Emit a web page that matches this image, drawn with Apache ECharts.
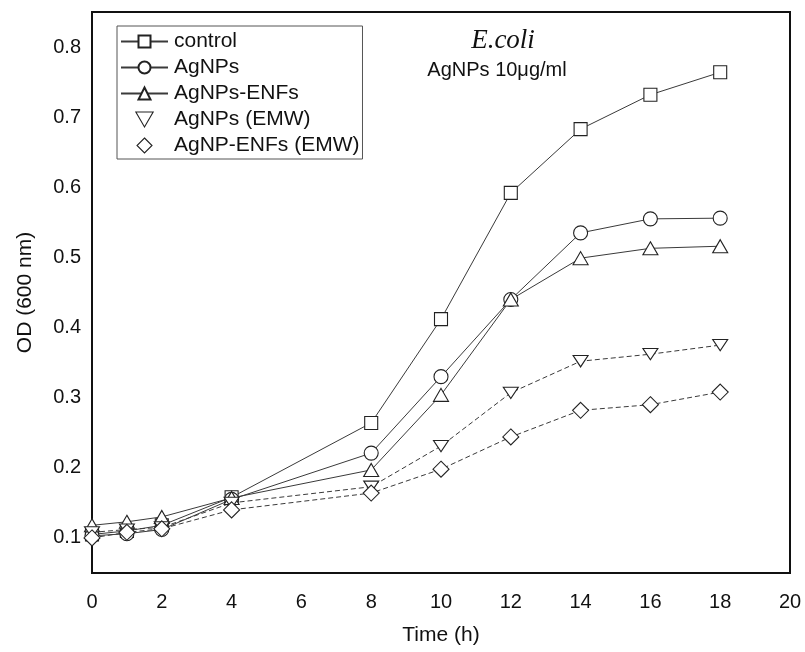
<!DOCTYPE html>
<html>
<head>
<meta charset="utf-8">
<script src="https://cdn.jsdelivr.net/npm/echarts@6/dist/echarts.min.js"></script>
<style>html,body{margin:0;padding:0;background:#fff}#c{width:805px;height:652px}</style>
</head>
<body>
<div id="c"></div>
<script>
const timeH = [0, 1, 2, 4, 8, 10, 12, 14, 16, 18];
const control = [0.105, 0.110, 0.118, 0.158, 0.264, 0.412, 0.592, 0.683, 0.732, 0.764];
const agnps = [0.103, 0.106, 0.112, 0.155, 0.221, 0.330, 0.440, 0.535, 0.555, 0.556];
const agnpsEnfs = [0.118, 0.123, 0.130, 0.157, 0.197, 0.304, 0.440, 0.499, 0.513, 0.516];
const agnpsEmw = [0.108, 0.112, 0.115, 0.150, 0.173, 0.231, 0.307, 0.352, 0.362, 0.375];
const agnpEnfsEmw = [0.100, 0.108, 0.113, 0.140, 0.164, 0.198, 0.244, 0.282, 0.290, 0.308];
const xTicks = [0, 2, 4, 6, 8, 10, 12, 14, 16, 18, 20];
const yTicks = [0.1, 0.2, 0.3, 0.4, 0.5, 0.6, 0.7, 0.8];
const seriesNames = ['control', 'AgNPs', 'AgNPs-ENFs', 'AgNPs (EMW)', 'AgNP-ENFs (EMW)'];

const FONT = '"Liberation Sans", Arial, sans-serif';
const DOWN_TRI = 'path://M0,0L10,0L5,8.66Z';
const DIAMOND = 'path://M5,0L10,5L5,10L0,5Z';

function pairs(vals) { return timeH.map((t, i) => [t, vals[i]]); }

const mk = (name, vals, symbol, size, dashed) => ({
  name: name,
  type: 'line',
  data: pairs(vals),
  symbol: symbol,
  symbolSize: size,
  symbolKeepAspect: true,
  showAllSymbol: true,
  lineStyle: { color: '#3a3a3a', width: 1, type: dashed ? [5, 3] : 'solid' },
  itemStyle: { color: '#fff', borderColor: '#222', borderWidth: 1.1 },
  emphasis: { disabled: true },
  z: 3
});

const chart = echarts.init(document.getElementById('c'), null, { renderer: 'canvas' });
chart.setOption({
  animation: false,
  backgroundColor: '#fff',
  textStyle: { fontFamily: FONT },
  grid: { left: 92, right: 15, top: 12, bottom: 79, show: true, borderColor: '#111', borderWidth: 2, backgroundColor: 'transparent' },
  xAxis: {
    type: 'value', min: 0, max: 20, interval: 2,
    name: 'Time (h)', nameLocation: 'middle', nameGap: 52,
    nameTextStyle: { fontSize: 21, color: '#111', fontFamily: FONT },
    axisLine: { show: false }, axisTick: { show: false }, splitLine: { show: false },
    axisLabel: { fontSize: 20, color: '#111', margin: 19, fontFamily: FONT, customValues: xTicks }
  },
  yAxis: {
    type: 'value', min: 0.05, max: 0.85,
    name: 'OD (600 nm)', nameLocation: 'middle', nameGap: 56,
    nameTextStyle: { fontSize: 21, color: '#111', fontFamily: FONT },
    axisLine: { show: false }, axisTick: { show: false }, splitLine: { show: false },
    axisLabel: { fontSize: 20, color: '#111', margin: 11, fontFamily: FONT, customValues: yTicks, formatter: v => v.toFixed(1) }
  },
  legend: {
    orient: 'vertical', left: 117, top: 26,
    padding: [5, 3, 3, 3],
    borderColor: '#555', borderWidth: 1, backgroundColor: '#fff',
    itemWidth: 47, itemHeight: 15, itemGap: 5,
    textStyle: { fontSize: 21, color: '#111', fontFamily: FONT, padding: [0, 0, 0, 1] },
    data: [
      { name: seriesNames[0] },
      { name: seriesNames[1] },
      { name: seriesNames[2] },
      { name: seriesNames[3], icon: DOWN_TRI, itemStyle: { color: '#fff', borderColor: '#222', borderWidth: 1.1 } },
      { name: seriesNames[4], icon: DIAMOND, itemStyle: { color: '#fff', borderColor: '#222', borderWidth: 1.1 } }
    ],
    selectedMode: false
  },
  graphic: [
    { type: 'text', x: 503, y: 41, style: { text: 'E.coli', font: 'italic 27px "Liberation Serif", "Times New Roman", serif', fill: '#111', textAlign: 'center', textVerticalAlign: 'middle' } },
    { type: 'text', x: 497, y: 70, style: { text: 'AgNPs 10μg/ml', font: '20px ' + FONT, fill: '#111', textAlign: 'center', textVerticalAlign: 'middle' } }
  ],
  series: [
    mk(seriesNames[0], control, 'rect', 13, false),
    mk(seriesNames[1], agnps, 'circle', 14, false),
    mk(seriesNames[2], agnpsEnfs, 'triangle', [15, 13], false),
    mk(seriesNames[3], agnpsEmw, DOWN_TRI, [15, 13], true),
    mk(seriesNames[4], agnpEnfsEmw, DIAMOND, [16, 16], true)
  ]
});
</script>
</body>
</html>
